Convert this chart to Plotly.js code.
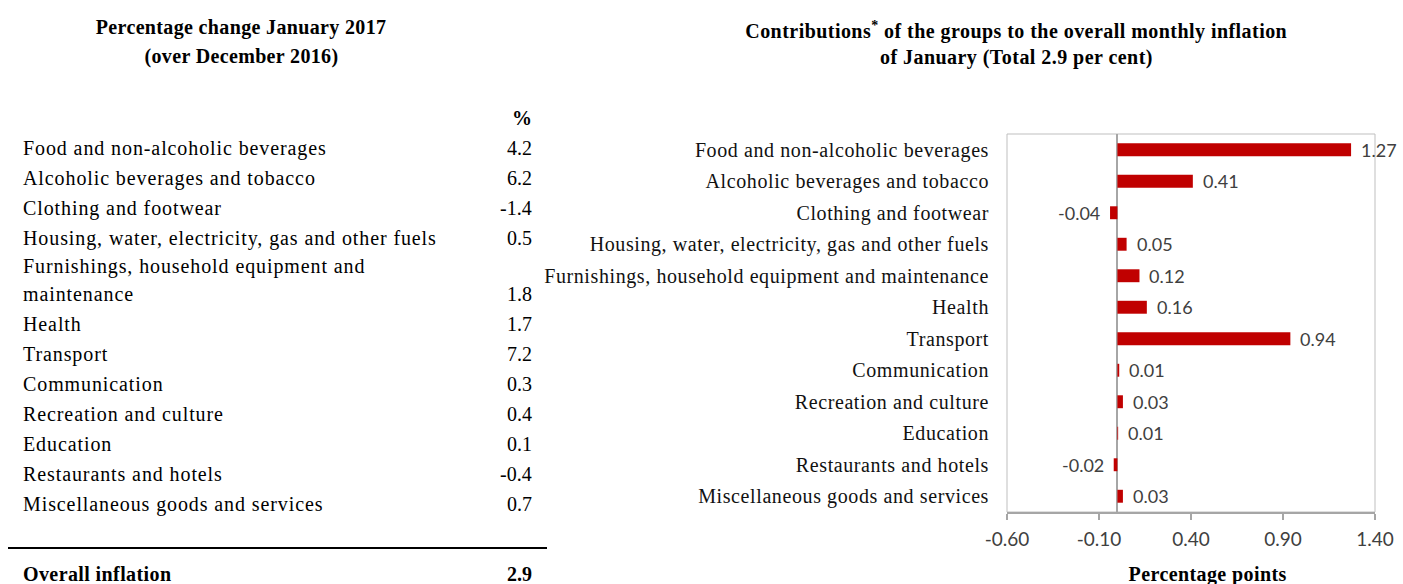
<!DOCTYPE html>
<html>
<head>
<meta charset="utf-8">
<script src="https://cdn.plot.ly/plotly-3.0.1.min.js"></script>
<style>
html,body{margin:0;padding:0;background:#fff;}
#chart{width:1403px;height:584px;}
.ytick text{letter-spacing:0.6px;}
</style>
</head>
<body>
<div id="chart"></div>
<script>
// ---- Data ----
const tableTitle = ['Percentage change January 2017', '(over December 2016)'];
const tableGroups = [
  'Food and non-alcoholic beverages',
  'Alcoholic beverages and tobacco',
  'Clothing and footwear',
  'Housing, water, electricity, gas and other fuels',
  'Furnishings, household equipment and<br>maintenance',
  'Health',
  'Transport',
  'Communication',
  'Recreation and culture',
  'Education',
  'Restaurants and hotels',
  'Miscellaneous goods and services'
];
const tableChange = ['4.2', '6.2', '-1.4', '0.5', '1.8', '1.7', '7.2', '0.3', '0.4', '0.1', '-0.4', '0.7'];
const overallLabel = 'Overall inflation';
const overallValue = '2.9';

const chartTitle = ['Contributions<sup>*</sup> of the groups to the overall monthly inflation', 'of January (Total 2.9 per cent)'];
const xAxisTitle = 'Percentage points';
const categories = [
  'Food and non-alcoholic beverages',
  'Alcoholic beverages and tobacco',
  'Clothing and footwear',
  'Housing, water, electricity, gas and other fuels',
  'Furnishings, household equipment and maintenance',
  'Health',
  'Transport',
  'Communication',
  'Recreation and culture',
  'Education',
  'Restaurants and hotels',
  'Miscellaneous goods and services'
];
const contributions = [1.27, 0.41, -0.04, 0.05, 0.12, 0.16, 0.94, 0.01, 0.03, 0.004, -0.02, 0.03];
const contributionLabels = ['1.27', '0.41', '-0.04', '0.05', '0.12', '0.16', '0.94', '0.01', '0.03', '0.01', '-0.02', '0.03'];
const xTickVals = [-0.6, -0.1, 0.4, 0.9, 1.4];
const xTickText = ['-0.60', '-0.10', '0.40', '0.90', '1.40'];

// ---- Layout helpers (pixel -> paper) ----
const W = 1403, H = 584;
const L = 1007, R = 1375, T = 134, B = 512;
const px = x => (x - L) / (R - L);
const py = y => (B - y) / (B - T);

const serif = 'Liberation Serif, Times New Roman, serif';
const sans = 'Lato, Open Sans, sans-serif';

const annotations = [];
const spacing = {}; // annotation index -> letter spacing (px)
function addAnn(opts, ls) {
  annotations.push(Object.assign({xref: 'paper', yref: 'paper', showarrow: false, yanchor: 'middle'}, opts));
  if (ls) spacing[annotations.length - 1] = ls;
}
const tfont = {family: serif, size: 20, color: '#000'};
const valX = 534;

tableTitle.forEach((t, k) => addAnn({x: px(241), y: py(28 + 28 * k), xanchor: 'center', text: '<b>' + t + '</b>', font: tfont}, 0.35));
addAnn({x: px(valX), y: py(118), xanchor: 'right', align: 'right', text: '<b>%</b>', font: tfont});
let cy = 148;
tableGroups.forEach((g, i) => {
  const lines = g.split('<br>');
  const n = lines.length;
  const shift = n > 1 ? -2 : 0;
  lines.forEach((ln, k) => addAnn({x: px(21), y: py(cy + shift + 28 * k), xanchor: 'left', align: 'left', text: ln, font: tfont}, 0.9));
  addAnn({x: px(valX), y: py(cy + shift + 28 * (n - 1)), xanchor: 'right', align: 'right', text: tableChange[i], font: tfont});
  cy += 30 + (n - 1) * 26;
});
addAnn({x: px(21), y: py(574), xanchor: 'left', align: 'left', text: '<b>' + overallLabel + '</b>', font: tfont}, 0.4);
addAnn({x: px(valX), y: py(574), xanchor: 'right', align: 'right', text: '<b>' + overallValue + '</b>', font: tfont});
chartTitle.forEach((t, k) => addAnn({x: px(1016), y: py(30 + 28 * k), xanchor: 'center', text: '<b>' + t + '</b>', font: tfont}, 0.45));
addAnn({x: px(1207), y: py(574), xanchor: 'center', text: '<b>' + xAxisTitle + '</b>', font: tfont}, 0.4);

// data labels for the bars, placed at each bar's end in data coordinates
contributions.forEach((v, i) => {
  annotations.push({
    xref: 'x', yref: 'y', x: v, y: categories[i], showarrow: false,
    xanchor: v < 0 ? 'right' : 'left', yanchor: 'middle',
    xshift: v < 0 ? -8 : 8, align: v < 0 ? 'right' : 'left',
    text: contributionLabels[i],
    font: {family: sans, size: 18, color: '#404040'}
  });
});

// per-annotation letter spacing via stylesheet
const css = Object.keys(spacing).map(i => `.annotation[data-index="${i}"] text{letter-spacing:${spacing[i]}px;}`).join('\n');
const st = document.createElement('style'); st.textContent = css; document.head.appendChild(st);

const trace = {
  type: 'bar', orientation: 'h',
  x: contributions, y: categories,
  cliponaxis: false,
  marker: {color: '#C00000', line: {width: 0}},
  hoverinfo: 'x+y'
};

const layout = {
  width: W, height: H,
  margin: {l: L, r: W - R, t: T, b: H - B, pad: 0},
  paper_bgcolor: '#fff', plot_bgcolor: '#fff',
  showlegend: false,
  bargap: 0.59,
  xaxis: {
    range: [-0.6, 1.4], tickvals: xTickVals, ticktext: xTickText,
    showgrid: false, zeroline: true, zerolinecolor: '#a6a6a6', zerolinewidth: 2,
    showline: true, linecolor: '#a6a6a6', linewidth: 1.5,
    ticks: 'outside', ticklen: 6, tickcolor: '#a6a6a6', tickwidth: 1.5,
    ticklabelstandoff: 4,
    tickfont: {family: sans, size: 19, color: '#404040'},
    automargin: false
  },
  yaxis: {
    autorange: 'reversed', showgrid: false, zeroline: false, showline: false,
    ticks: 'outside', ticklen: 13, tickcolor: 'rgba(0,0,0,0)',
    tickfont: {family: serif, size: 20, color: '#111'},
    automargin: false
  },
  shapes: [
    {type: 'rect', xref: 'paper', yref: 'paper', x0: 0, x1: 1, y0: 0, y1: 1,
     line: {color: '#bfbfbf', width: 1}, layer: 'below'},
    {type: 'line', xref: 'paper', yref: 'paper', x0: px(8), x1: px(547), y0: py(548), y1: py(548),
     line: {color: '#000', width: 2}}
  ],
  annotations: annotations
};

Plotly.newPlot('chart', [trace], layout, {displayModeBar: false, staticPlot: true});
</script>
</body>
</html>
